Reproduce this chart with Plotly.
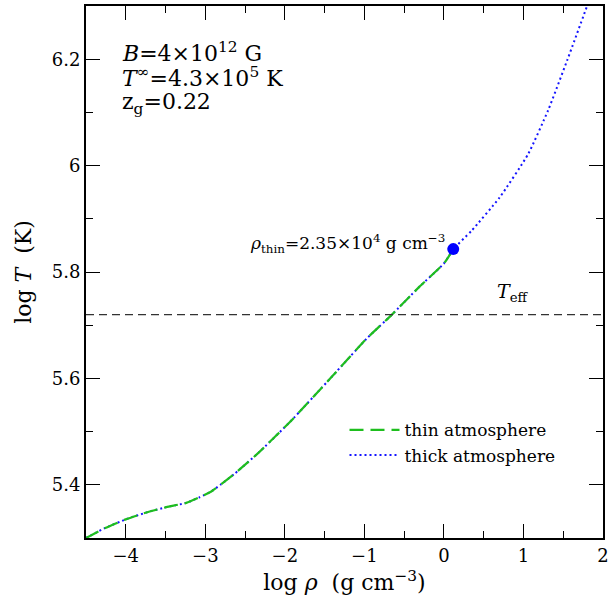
import plotly.graph_objects as go

# Data
log_rho_thick = [-4.5, -4.27, -4.0, -3.74, -3.49, -3.24, -3.08, -2.93, -2.81, -2.63, -2.34, -1.93, -1.41, -0.97, -0.66, -0.31, 0.0, 0.12, 0.35, 0.70, 1.06, 1.31, 1.55, 1.80]
log_T_thick = [5.300, 5.318, 5.335, 5.348, 5.358, 5.366, 5.376, 5.387, 5.400, 5.421, 5.459, 5.519, 5.603, 5.675, 5.719, 5.772, 5.816, 5.843, 5.878, 5.940, 6.022, 6.104, 6.198, 6.300]

log_rho_thin = [-4.5, -4.27, -4.0, -3.74, -3.49, -3.24, -3.08, -2.93, -2.81, -2.63, -2.34, -1.93, -1.41, -0.97, -0.66, -0.31, 0.0, 0.09]
log_T_thin = [5.300, 5.318, 5.335, 5.348, 5.358, 5.366, 5.376, 5.387, 5.400, 5.421, 5.459, 5.519, 5.603, 5.675, 5.719, 5.772, 5.816, 5.836]

rho_thin_point = [0.117]
T_thin_point = [5.843]

T_eff = 5.72

x_range = [-4.5, 2.0]
y_range = [5.3, 6.3]

SERIF = "DejaVu Serif, Liberation Serif, serif"

fig = go.Figure()
fig.add_trace(go.Scatter(x=log_rho_thick, y=log_T_thick, mode="lines", name="thick atmosphere",
                         line=dict(color="rgb(20,20,255)", width=2, dash="2px,3px", shape="spline", smoothing=0.5)))
fig.add_trace(go.Scatter(x=log_rho_thin, y=log_T_thin, mode="lines", name="thin atmosphere",
                         line=dict(color="rgb(30,190,30)", width=2.2, dash="14px,7px", shape="spline", smoothing=0.5)))
fig.add_trace(go.Scatter(x=rho_thin_point, y=T_thin_point, mode="markers", showlegend=False,
                         marker=dict(color="rgb(0,0,255)", size=12)))

fig.add_hline(y=T_eff, line=dict(color="#333", width=1.2, dash="8px,5px"))

fig.add_annotation(x=0.04, y=5.853, xref="x", yref="y", xanchor="right", yanchor="middle",
                   text="<i>ρ</i><sub>thin</sub>=2.35×10<sup>4</sup> g cm<sup>−3</sup>",
                   showarrow=False, font=dict(family=SERIF, size=17, color="black"))
fig.add_annotation(x=0.87, y=5.762, xref="x", yref="y", xanchor="center", yanchor="middle",
                   text="<i>T</i><sub>eff</sub>", showarrow=False,
                   font=dict(family=SERIF, size=19, color="black"))

for txt, yp in [("<i>B</i>=4×10<sup>12</sup> G", 0.913),
                ("<i>T</i><sup>∞</sup>=4.3×10<sup>5</sup> K", 0.866),
                ("z<sub>g</sub>=0.22", 0.817)]:
    fig.add_annotation(x=0.065, y=yp, xref="paper", yref="paper", xanchor="left", yanchor="middle",
                       text=txt, showarrow=False, font=dict(family=SERIF, size=22, color="black"))

axis_common = dict(showline=True, linecolor="black", linewidth=2, mirror="allticks",
                   ticks="inside", ticklen=14, tickwidth=1.3, tickcolor="black",
                   showgrid=False, zeroline=False,
                   tickfont=dict(family=SERIF, size=18, color="black"))

fig.update_xaxes(range=x_range, dtick=1, tick0=0,
                 minor=dict(ticks="inside", dtick=0.5, ticklen=7, tickcolor="black", tickwidth=1.3),
                 title=dict(text="log <i>ρ</i>  (g cm<sup>−3</sup>)", font=dict(family=SERIF, size=22, color="black"), standoff=10),
                 **axis_common)
fig.update_yaxes(range=y_range, dtick=0.2, tick0=0,
                 minor=dict(ticks="inside", dtick=0.1, ticklen=7, tickcolor="black", tickwidth=1.3),
                 title=dict(text="log <i>T</i>  (K)", font=dict(family=SERIF, size=22, color="black"), standoff=14),
                 **axis_common)

fig.update_layout(width=613, height=607, margin=dict(l=86, r=4, t=6, b=69),
                  plot_bgcolor="white", paper_bgcolor="white",
                  legend=dict(x=0.5, y=0.179, xanchor="left", yanchor="middle", traceorder="reversed",
                              bgcolor="rgba(0,0,0,0)", font=dict(family=SERIF, size=17, color="black"),
                              itemwidth=50, tracegroupgap=0))

fig.write_html("out.html")
